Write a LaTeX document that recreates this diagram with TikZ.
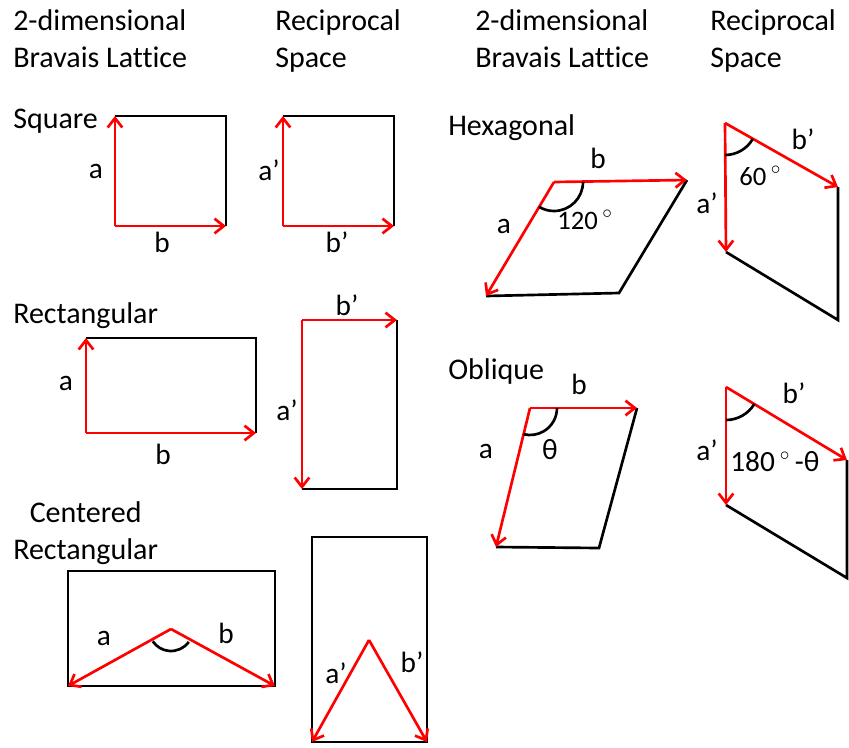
\documentclass[tikz,border=0pt]{standalone}
\usepackage{fontspec}
\setmainfont{Carlito}[Ligatures=NoCommon]
\usepackage{tikz}
\usetikzlibrary{arrows.meta}

\begin{document}
\begin{tikzpicture}[x=0.75pt,y=-0.75pt,>={Straight Barb[length=7pt,width=11pt]},
  edge/.style={line width=2pt},
  vec/.style={red,line width=2pt,->},
  head/.style={font=\fontsize{22.5}{27.75}\selectfont,inner sep=0pt,anchor=base west},
  lbl/.style={font=\fontsize{22}{26}\selectfont,inner sep=0pt,anchor=base},
  ang/.style={font=\fontsize{20}{24}\selectfont,inner sep=0pt,anchor=base west}]
\useasboundingbox (0,0) rectangle (849,747);

\node[head,align=left] (hdL) at (13,67) {2-dimensional\\Bravais Lattice};
\node[head,align=left] (hdLr) at (275,67) {Reciprocal\\Space};
\node[head,align=left] (hdR) at (475,67) {2-dimensional\\Bravais Lattice};
\node[head,align=left] (hdRr) at (710,67) {Reciprocal\\Space};

\node[head] (tSq) at (13,128) {Square};
\node[head] (tRe) at (13,323) {Rectangular};
\node[head,align=center] (tCe) at (13,559) {Centered\\Rectangular};
\node[head] (tHx) at (448,135) {Hexagonal};
\node[head] (tOb) at (448,379) {Oblique};

% square
\coordinate (s0) at (115,226); \coordinate (sa) at (115,116);
\coordinate (sb) at (226,226); \coordinate (sc) at (226,116);
\draw[edge] (sa) -- (sc) -- (sb);
\draw[vec] (s0) -- (sa);
\draw[vec] (s0) -- (sb);
\node[lbl] (sla) at (96,178) {a};
\node[lbl] (slb) at (162,252) {b};

\coordinate (q0) at (283,226); \coordinate (qa) at (283,116);
\coordinate (qb) at (394,226); \coordinate (qc) at (394,116);
\draw[edge] (qa) -- (qc) -- (qb);
\draw[vec] (q0) -- (qa);
\draw[vec] (q0) -- (qb);
\node[lbl] (qla) at (269,180) {a’};
\node[lbl] (qlb) at (337,252) {b’};

% rectangular
\coordinate (r0) at (86,433); \coordinate (ra) at (86,338);
\coordinate (rb) at (256,433); \coordinate (rc) at (256,338);
\draw[edge] (ra) -- (rc) -- (rb);
\draw[vec] (r0) -- (ra);
\draw[vec] (r0) -- (rb);
\node[lbl] (rla) at (66,390) {a};
\node[lbl] (rlb) at (163,464) {b};

\coordinate (p0) at (302,320); \coordinate (pa) at (302,489);
\coordinate (pb) at (397,320); \coordinate (pc) at (397,489);
\draw[edge] (pb) -- (pc) -- (pa);
\draw[vec] (p0) -- (pa);
\draw[vec] (p0) -- (pb);
\node[lbl] (pla) at (287,420) {a’};
\node[lbl] (plb) at (347,315) {b’};

% centered rectangular
\coordinate (c0) at (171,629); \coordinate (ca) at (68,686);
\coordinate (cb) at (275,686); \coordinate (cc) at (68,571);
\draw[edge] (cc) rectangle (cb);
\draw[vec] (c0) -- (ca);
\draw[vec] (c0) -- (cb);
\draw[edge] (c0) ++(36:22) arc[start angle=36,end angle=146,radius=22];
\node[lbl] (cla) at (104,645) {a};
\node[lbl] (clb) at (226,643) {b};

\coordinate (d0) at (369,640); \coordinate (da) at (312,742);
\coordinate (db) at (427,742); \coordinate (dc) at (312,537);
\draw[edge] (dc) rectangle (db);
\draw[vec] (d0) -- (da);
\draw[vec] (d0) -- (db);
\node[lbl] (dla) at (336,683) {a’};
\node[lbl] (dlb) at (412,672) {b’};

% hexagonal
\coordinate (h0) at (554,182); \coordinate (ha) at (486,296);
\coordinate (hb) at (687,180); \coordinate (hc) at (619,293);
\draw[edge] (hb) -- (hc) -- (ha);
\draw[vec] (h0) -- (ha);
\draw[vec] (h0) -- (hb);
\draw[edge] (h0) ++(0:29) arc[start angle=0,end angle=121,radius=29];
\node[lbl] (hla) at (504,233) {a};
\node[lbl] (hlb) at (598,168) {b};
\node[ang] (hlt) at (557,229) {120\,$^\circ$};

\coordinate (g0) at (725,123); \coordinate (ga) at (726,252);
\coordinate (gb) at (838,187); \coordinate (gc) at (838,320);
\draw[edge] (gb) -- (gc) -- (ga);
\draw[vec] (g0) -- (ga);
\draw[vec] (g0) -- (gb);
\draw[edge] (g0) ++(30:32) arc[start angle=30,end angle=90,radius=32];
\node[lbl] (gla) at (707,213) {a’};
\node[lbl] (glb) at (803,149) {b’};
\node[ang] (glt) at (739,185) {60\,$^\circ$};

% oblique
\coordinate (o0) at (530,408); \coordinate (oa) at (496,547);
\coordinate (ob) at (637,408); \coordinate (oc) at (599,548);
\draw[edge] (ob) -- (oc) -- (oa);
\draw[vec] (o0) -- (oa);
\draw[vec] (o0) -- (ob);
\draw[edge] (o0) ++(0:27) arc[start angle=0,end angle=104,radius=27];
\node[lbl] (ola) at (486,458) {a};
\node[lbl] (olb) at (579,394) {b};
\node[lbl] (olt) at (550,459) {θ};

\coordinate (n0) at (726,387); \coordinate (na) at (726,505);
\coordinate (nb) at (847,460); \coordinate (nc) at (847,578);
\draw[edge] (nb) -- (nc) -- (na);
\draw[vec] (n0) -- (na);
\draw[vec] (n0) -- (nb);
\draw[edge] (n0) ++(31:33) arc[start angle=31,end angle=90,radius=33];
\node[lbl] (nla) at (707,460) {a’};
\node[lbl] (nlb) at (794,403) {b’};
\node[lbl,anchor=base west] (nlt) at (730,471) {180\,$^\circ$\,-θ};
\end{tikzpicture}
\end{document}
